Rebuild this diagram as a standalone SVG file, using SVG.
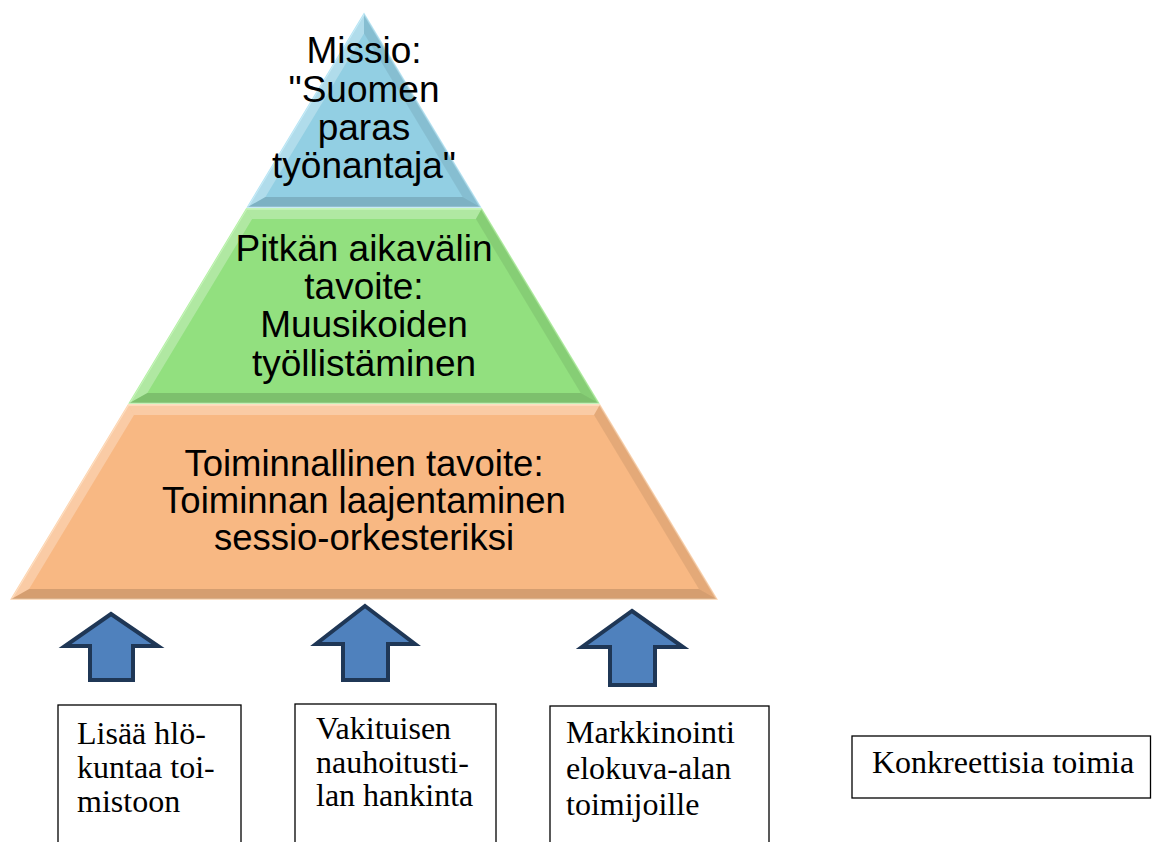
<svg xmlns="http://www.w3.org/2000/svg" width="1152" height="842" viewBox="0 0 1152 842">
<style>
.pt{font-family:"Liberation Sans",Arial,sans-serif;font-size:37px;fill:#000;text-anchor:middle}
.bt{font-family:"Liberation Serif","Times New Roman",serif;font-size:32px;fill:#000}
.box{fill:#fff;stroke:#000;stroke-width:1.3}
.arr{fill:#4f81bd;stroke:#1f3756;stroke-width:4;stroke-linejoin:miter}
.lt{fill:#fff;fill-opacity:0.28}
.dk{fill:#000;fill-opacity:0.08}
.dk2{fill:#000;fill-opacity:0.14}
</style>
<rect width="1152" height="842" fill="#fff"/>
<g id="level-mission">
<polygon points="364,14 480.3,207 247.7,207" fill="#92cfe3" stroke="#b5e4f4" stroke-width="1.5"/>
<polygon class="lt" points="364,14 364,33.4 265.4,197 247.7,207"/>
<polygon class="dk" points="364,14 480.3,207 462.6,197 364,33.4"/>
<polygon class="dk2" points="247.7,207 480.3,207 462.6,197 265.4,197"/>
<text class="pt" x="364" y="63">Missio:</text>
<text class="pt" x="364" y="102">"Suomen</text>
<text class="pt" x="364" y="140">paras</text>
<text class="pt" x="364" y="178">työnantaja"</text>
</g>
<g id="level-long-term">
<polygon points="246.5,209 481.5,209 598.5,403 129.5,403" fill="#92e07f" stroke="#b2f0a2" stroke-width="1.5"/>
<polygon class="lt" points="246.5,209 481.5,209 475.9,219 252.1,219"/>
<polygon class="lt" points="246.5,209 252.1,219 147.3,393 129.5,403"/>
<polygon class="dk" points="481.5,209 598.5,403 580.7,393 475.9,219"/>
<polygon class="dk2" points="129.5,403 598.5,403 580.7,393 147.3,393"/>
<text class="pt" x="364" y="261">Pitkän aikavälin</text>
<text class="pt" x="364" y="299">tavoite:</text>
<text class="pt" x="364" y="337">Muusikoiden</text>
<text class="pt" x="364" y="376">työllistäminen</text>
</g>
<g id="level-operational">
<polygon points="128.3,405 599.7,405 716.6,599 11.4,599" fill="#f8b883" stroke="#fdd3ad" stroke-width="1.5"/>
<polygon class="lt" points="128.3,405 599.7,405 594,415 134,415"/>
<polygon class="lt" points="128.3,405 134,415 29.1,589 11.4,599"/>
<polygon class="dk" points="599.7,405 716.6,599 698.9,589 594,415"/>
<polygon class="dk2" points="11.4,599 716.6,599 698.9,589 29.1,589"/>
<text class="pt" x="364" y="476" style="font-size:36.5px">Toiminnallinen tavoite:</text>
<text class="pt" x="364" y="513" style="font-size:36.5px">Toiminnan laajentaminen</text>
<text class="pt" x="364" y="550" style="font-size:36.5px">sessio-orkesteriksi</text>
</g>
<g id="connectors">
<polygon class="arr" points="111,614 158,646 133,646 133,680 90,680 90,646 65,646"/>
<polygon class="arr" points="365,606 415,644 388,644 388,680 343,680 343,644 316,644"/>
<polygon class="arr" points="632,611 683,647 655,647 655,685 610,685 610,647 582,647"/>
</g>
<g id="action-staff">
<rect class="box" x="58" y="705" width="183" height="160"/>
<text class="bt" x="77" y="744">Lisää hlö-</text>
<text class="bt" x="77" y="778">kuntaa toi-</text>
<text class="bt" x="77" y="812">mistoon</text>
</g>
<g id="action-studio">
<rect class="box" x="295" y="704" width="201" height="160"/>
<text class="bt" x="316" y="739">Vakituisen</text>
<text class="bt" x="316" y="773">nauhoitusti-</text>
<text class="bt" x="316" y="806">lan hankinta</text>
</g>
<g id="action-marketing">
<rect class="box" x="550" y="706" width="219" height="160"/>
<text class="bt" x="566" y="743">Markkinointi</text>
<text class="bt" x="566" y="779">elokuva-alan</text>
<text class="bt" x="566" y="815">toimijoille</text>
</g>
<g id="legend">
<rect class="box" x="852" y="736" width="298.5" height="62"/>
<text class="bt" x="872" y="773">Konkreettisia toimia</text>
</g>
</svg>
